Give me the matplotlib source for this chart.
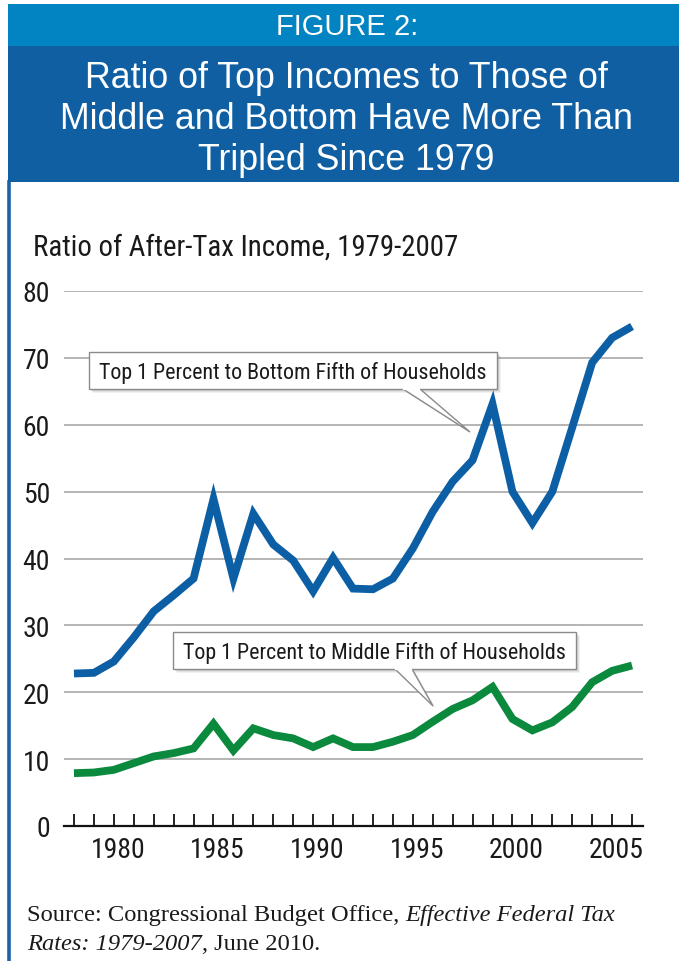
import matplotlib
matplotlib.use('Agg')
import matplotlib.pyplot as plt
from matplotlib.patches import Rectangle, Polygon
from matplotlib.lines import Line2D
from matplotlib import font_manager as fm

# ---------------- data ----------------
years = list(range(1979, 2008))
top1_to_bottom_fifth = [22.8, 22.9, 24.6, 28.2, 32.1, 34.5, 37.0, 48.9, 37.0, 46.7,
                        42.1, 39.7, 35.1, 40.1, 35.5, 35.4, 37.0, 41.5, 47.0, 51.5,
                        54.7, 63.1, 50.0, 45.3, 50.0, 59.6, 69.3, 73.0, 74.7]
top1_to_middle_fifth = [7.9, 8.0, 8.4, 9.4, 10.4, 10.9, 11.6, 15.3, 11.3, 14.6,
                        13.6, 13.1, 11.8, 13.1, 11.8, 11.8, 12.6, 13.6, 15.6, 17.5,
                        18.8, 20.8, 16.0, 14.3, 15.5, 17.8, 21.5, 23.2, 24.0]
y_ticks = [0, 10, 20, 30, 40, 50, 60, 70, 80]
x_label_years = [1980, 1985, 1990, 1995, 2000, 2005]
x_labels = ['1980', '1985', '1990', '1995', '2000', '2005']

header_label = 'FIGURE 2:'
title_lines = ['Ratio of Top Incomes to Those of',
               'Middle and Bottom Have More Than',
               'Tripled Since 1979']
subtitle = 'Ratio of After-Tax Income, 1979-2007'
label_bottom = 'Top 1 Percent to Bottom Fifth of Households'
label_middle = 'Top 1 Percent to Middle Fifth of Households'

# ---------------- style ----------------
W, H = 679, 962
BLUE = '#0d5fa5'
GREEN = '#0b8a3e'
HEAD_LIGHT = '#0284c2'
HEAD_DARK = '#0f5fa2'
BORDER = '#1a63a8'
TEXT = '#1a1a1a'


def has_font(name):
    try:
        fm.findfont(fm.FontProperties(family=name), fallback_to_default=False)
        return True
    except Exception:
        return False


def first_font(names, default):
    for n in names:
        if has_font(n):
            return n
    return default


NARROW = first_font(['Liberation Sans Narrow', 'Roboto Condensed', 'Open Sans Condensed',
                     'Lato'], 'DejaVu Sans')
SANS = first_font(['Liberation Sans'], 'DejaVu Sans')
SERIF = first_font(['Liberation Serif'], 'DejaVu Serif')


def P(x, y):
    """pixel (from top-left) -> figure fraction"""
    return (x / W, 1 - y / H)


fig = plt.figure(figsize=(W / 100, H / 100), dpi=100)
fig.patch.set_facecolor('white')
renderer = fig.canvas.get_renderer()


def fit(t, target_w):
    w = t.get_window_extent(renderer).width
    t.set_fontsize(t.get_fontsize() * target_w / w)
    return t.get_fontsize()


# ---------------- header ----------------
fig.patches.append(Rectangle(P(8, 47), (W - 8) / W, 42 / H, transform=fig.transFigure,
                             facecolor=HEAD_LIGHT, edgecolor='none', zorder=0))
fig.patches.append(Rectangle(P(8, 183), (W - 8) / W, 136 / H, transform=fig.transFigure,
                             facecolor=HEAD_DARK, edgecolor='none', zorder=0))
fig.add_artist(Line2D([9 / W, 9 / W], [1 - 183 / H, 0], transform=fig.transFigure,
                      color=BORDER, lw=2.6, zorder=0))

t = fig.text(*P(347, 35), header_label, ha='center', va='baseline', color='white',
             family=SANS, fontsize=20)
fit(t, 142)

tl = []
for i, line in enumerate(title_lines):
    tl.append(fig.text(*P(346, 88 + i * 41), line, ha='center', va='baseline',
                       color='white', family=SANS, fontsize=22))
fs = fit(tl[1], 572)
for tt in tl:
    tt.set_fontsize(fs)

st = fig.text(*P(33, 256), subtitle, ha='left', va='baseline', color=TEXT,
              family=NARROW, fontsize=22)
fit(st, 425)

# ---------------- axes ----------------
ax_left, ax_right = 64, 643
ax_top, ax_bot = 292, 827
ax = fig.add_axes([ax_left / W, 1 - ax_bot / H, (ax_right - ax_left) / W, (ax_bot - ax_top) / H])
ax.set_facecolor('none')

ax.plot(years, top1_to_bottom_fifth, color=BLUE, lw=5.6, solid_joinstyle='miter',
        solid_capstyle='butt', clip_on=False, zorder=3)
ax.plot(years, top1_to_middle_fifth, color=GREEN, lw=5.6, solid_joinstyle='miter',
        solid_capstyle='butt', clip_on=False, zorder=3)

ax.set_xlim(1978.5, 2007.55)
ax.set_ylim(0, 80)

ax.set_yticks(y_ticks)
ax.set_yticklabels([str(v) for v in y_ticks])
ax.yaxis.grid(True, color='#a8a8a8', lw=1.2)
ax.set_axisbelow(True)

ax.set_xticks(years)
ax.set_xticklabels(['' for _ in years])
label_offset = 1.2  # labels in the original sit right of their year ticks
ax.set_xticks([yr + label_offset for yr in x_label_years], minor=True)
ax.set_xticklabels(x_labels, minor=True)

for s in ['top', 'right', 'left']:
    ax.spines[s].set_visible(False)
ax.spines['bottom'].set_color('#111111')
ax.spines['bottom'].set_linewidth(1.6)
ax.spines['bottom'].set_zorder(4)

ax.tick_params(axis='x', which='major', direction='in', length=8.5, width=1.3,
               color='#111111')
ax.tick_params(axis='x', which='minor', length=0, pad=7, labelsize=20,
               labelcolor=TEXT)
ax.tick_params(axis='y', length=0, pad=10, labelsize=20, labelcolor=TEXT)
for lab in ax.get_xticklabels(minor=True) + ax.get_yticklabels():
    lab.set_family(NARROW)


# ---------------- callouts ----------------
def callout(x0, y0, x1, y1, bl, br, tip, text):
    # soft shadow
    for k, a in [(4, 0.10), (3, 0.12), (2, 0.15)]:
        fig.patches.append(Rectangle(P(x0 + k, y1 + k), (x1 - x0) / W, (y1 - y0) / H,
                                     transform=fig.transFigure, facecolor='#777777',
                                     edgecolor='none', alpha=a, zorder=5))
    fig.patches.append(Polygon([P(bl + 3, y1 + 3), P(tip[0] + 2, tip[1] + 2), P(br + 3, y1 + 3)],
                               closed=True, transform=fig.transFigure,
                               facecolor='#777777', edgecolor='none', alpha=0.25, zorder=5))
    fig.patches.append(Rectangle(P(x0, y1), (x1 - x0) / W, (y1 - y0) / H,
                                 transform=fig.transFigure, facecolor='white',
                                 edgecolor='#8a8a8a', lw=1.0, zorder=6))
    fig.patches.append(Polygon([P(bl, y1), P(*tip), P(br, y1)], closed=False,
                               transform=fig.transFigure, facecolor='white',
                               edgecolor='#8a8a8a', lw=1.0, zorder=7))
    fig.add_artist(Line2D([(bl + 0.8) / W, (br - 0.8) / W], [1 - y1 / H, 1 - y1 / H],
                          transform=fig.transFigure, color='white', lw=1.6, zorder=8))
    tx = fig.text(*P((x0 + x1) / 2, (y0 + y1) / 2 + 1), text, ha='center', va='center',
                  color=TEXT, family=NARROW, fontsize=18, zorder=9)
    return tx


t1 = callout(89, 353, 497, 390, 403, 420, (470, 433), label_bottom)
t2 = callout(173, 633, 576, 670, 395, 412, (433, 707), label_middle)
fs_lab = fit(t1, 390)
t2.set_fontsize(fs_lab)

# ---------------- source ----------------
def rich_line(x, y, parts, size):
    cur = x
    arts = []
    for txt, style in parts:
        a = fig.text(*P(cur, y), txt, ha='left', va='baseline', family=SERIF,
                     style=style, fontsize=size, color=TEXT)
        cur += a.get_window_extent(renderer).width
        arts.append(a)
    return arts, cur - x


src1 = [('Source: Congressional Budget Office, ', 'normal'), ('Effective Federal Tax', 'italic')]
src2 = [('Rates: 1979-2007', 'italic'), (', June 2010.', 'normal')]

arts, w1 = rich_line(27, 921, src1, 16)
size = 16 * 589 / w1
for a in arts:
    a.remove()
rich_line(27, 921, src1, size)
rich_line(27, 950, src2, size)

fig.savefig('out.png', dpi=100, facecolor='white')
